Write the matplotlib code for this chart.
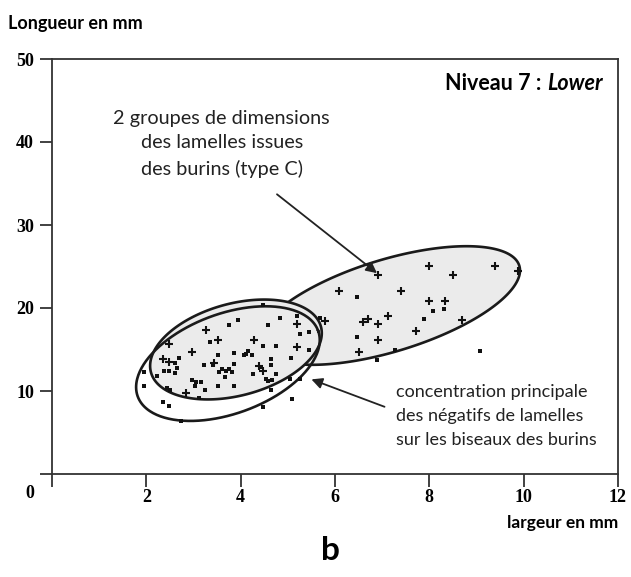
import numpy as np
import matplotlib
matplotlib.use("Agg")
import matplotlib.pyplot as plt

plt.rcParams['font.family'] = ['Lato', 'DejaVu Sans']

# lamelles type C (crosses)
cross_x = [7.99, 8.51, 6.92, 6.09, 7.40, 7.99, 8.33, 8.70, 7.12, 6.59, 6.69, 6.92,
           5.79, 7.72, 6.92, 6.51, 9.40, 9.89, 5.20, 5.19, 3.27, 3.53, 4.29, 2.97,
           2.49, 2.36, 2.49, 3.43, 4.39, 4.48, 2.85]
cross_y = [25.1, 24.0, 24.0, 22.0, 22.0, 20.8, 20.9, 18.6, 19.0, 18.3, 18.7, 18.1,
           18.4, 17.2, 16.1, 14.7, 25.1, 24.5, 18.1, 15.3, 17.3, 16.1, 16.1, 14.7,
           15.7, 13.8, 13.5, 13.4, 13.0, 12.4, 9.8]

# negatifs de lamelles (squares)
square_x = [6.47, 8.08, 8.31, 7.88, 5.69, 6.47, 7.28, 6.90, 9.08, 5.45, 5.25, 5.45,
            5.07, 5.05, 5.26,
            4.47, 5.20, 4.83, 3.95, 3.75, 4.57, 3.34, 4.47, 4.75, 3.86, 4.15, 4.07,
            4.25, 4.12, 3.53, 4.65, 2.70, 2.61, 2.65, 3.23, 3.42, 3.86, 4.64, 4.42,
            3.60, 3.68, 3.75, 3.82, 3.54, 2.38, 2.49, 2.61, 1.94, 2.22, 3.67, 4.27,
            4.74, 4.54, 4.59, 4.66, 2.96, 3.06, 3.15, 3.03, 3.24, 3.53, 3.86, 1.94,
            2.44, 2.51, 4.64, 3.12, 2.36, 2.47, 5.08, 4.47, 2.74]
square_y = [21.3, 19.6, 19.9, 18.7, 18.8, 16.5, 14.9, 13.7, 14.8, 17.1, 16.9, 14.9,
            14.0, 11.5, 11.5,
            20.4, 19.0, 18.8, 18.5, 17.9, 17.9, 15.9, 15.4, 15.4, 14.6, 14.8, 14.3,
            14.3, 14.5, 14.3, 13.9, 14.0, 13.4, 12.8, 13.1, 13.1, 13.3, 13.1, 12.9,
            12.7, 12.4, 12.6, 12.3, 12.3, 12.4, 12.4, 12.2, 12.3, 11.8, 11.7, 12.1,
            12.1, 11.5, 11.2, 11.3, 11.3, 11.1, 11.1, 10.6, 10.1, 10.6, 10.6, 10.6,
            10.4, 10.1, 10.1, 9.2, 8.7, 8.2, 9.0, 8.1, 6.4]

x_ticks = [0, 2, 4, 6, 8, 10, 12]
y_ticks = [0, 10, 20, 30, 40, 50]

# ellipses: centre (data), semi-axes (px), angle (deg)
ell_upper = (7.15, 20.3, 136, 46, 17)
ell_inner = (3.90, 15.0, 88, 46, 15)
ell_outer = (3.73, 13.3, 96, 50, 20)

fig = plt.figure(figsize=(6.31, 5.77), dpi=100)
ax = fig.add_axes([52/631, 103/577, 566/631, 415/577])
ax.set_xlim(0, 12)
ax.set_ylim(0, 50)
sx = 566/12
sy = 415/50


def ellipse_xy(e):
    cx, cy, a, b, ang = e
    t = np.linspace(0, 2*np.pi, 300)
    r = np.deg2rad(ang)
    ex, ey = a*np.cos(t), b*np.sin(t)
    px = ex*np.cos(r) - ey*np.sin(r)
    py = ex*np.sin(r) + ey*np.cos(r)
    return cx + px/sx, cy + py/sy


fill_c = '#ebebeb'
xs, ys = ellipse_xy(ell_upper)
ax.fill(xs, ys, facecolor=fill_c, edgecolor='#1a1a1a', lw=1.9, zorder=1)
xs, ys = ellipse_xy(ell_inner)
ax.fill(xs, ys, facecolor=fill_c, edgecolor='#1a1a1a', lw=1.9, zorder=2)
xs, ys = ellipse_xy(ell_outer)
ax.plot(xs, ys, color='#1a1a1a', lw=1.9, zorder=2)

ax.scatter(square_x, square_y, marker='s', s=12, color='#111111', lw=0, zorder=4)
ax.scatter(cross_x, cross_y, marker='+', s=40, color='#111111', lw=1.5, zorder=4)

for sp in ax.spines.values():
    sp.set_linewidth(1.3)
    sp.set_color('#333333')
ax.set_xticks(x_ticks)
ax.set_yticks(y_ticks)
ax.set_xticklabels([''] + [str(v) for v in x_ticks[1:]])
ax.set_yticklabels([''] + [str(v) for v in y_ticks[1:]])
ax.tick_params(direction='out', length=9, width=1.3, color='#333333',
               labelsize=13, pad=4)
ax.tick_params(axis='x', pad=1.5)
serif = ['Liberation Serif', 'DejaVu Serif']
for lbl in ax.get_xticklabels() + ax.get_yticklabels():
    lbl.set_fontweight('bold')
    lbl.set_family(serif)
ax.annotate('0', xy=(0, 0), xytext=(-16, -14), textcoords='offset points',
            ha='center', va='center', fontsize=13, fontweight='bold',
            family=serif, annotation_clip=False)

fig.text(8/631, 1 - 24/577, 'Longueur en mm', fontsize=13, fontweight='bold',
         ha='left', va='center')
fig.text(618/631, 1 - 523/577, 'largeur en mm', fontsize=12.5, fontweight='bold',
         ha='right', va='center')
fig.text(330/631, 1 - 550/577, 'b', fontsize=24, fontweight='bold',
         ha='center', va='center')

t_lower = ax.text(0.973, 0.925, 'Lower', transform=ax.transAxes, fontsize=15.5,
                  fontweight='bold', style='italic', ha='right', va='baseline')
ax.annotate('Niveau 7 : ', xy=(0, 0), xycoords=t_lower, fontsize=15.5,
            fontweight='bold', ha='right', va='bottom')

ax.text(3.6, 39.8, '2 groupes de dimensions\ndes lamelles issues\ndes burins (type C)',
        fontsize=14.3, ha='center', va='center', linespacing=1.55, color='#222222')
ax.annotate('', xy=(6.89, 24.2), xytext=(4.77, 33.7),
            arrowprops=dict(arrowstyle='-|>', color='#222222', lw=1.3,
                            mutation_scale=16, shrinkA=0, shrinkB=0))

ax.text(7.3, 7.0, 'concentration principale\ndes négatifs de lamelles\nsur les biseaux des burins',
        fontsize=13, ha='left', va='center', linespacing=1.6, color='#222222')
ax.annotate('', xy=(5.5, 11.4), xytext=(7.05, 8.1),
            arrowprops=dict(arrowstyle='-|>', color='#222222', lw=1.3,
                            mutation_scale=16, shrinkA=0, shrinkB=0))

fig.savefig('out.png', dpi=100)
